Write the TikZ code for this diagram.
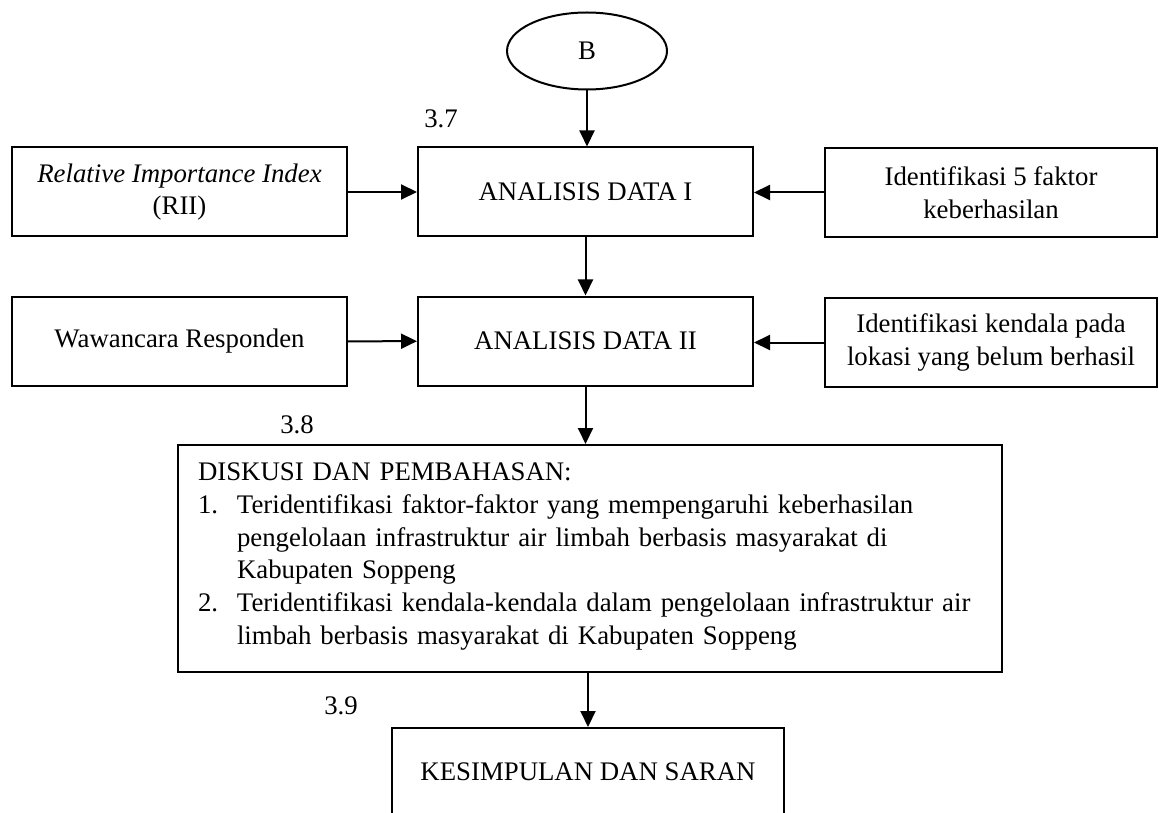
\documentclass[tikz,border=0pt]{standalone}
\usepackage{fontspec}
\setmainfont{Liberation Serif}
\usetikzlibrary{arrows.meta,shapes.geometric}
\tikzset{
  flowbox/.style={
    draw,
    line width=1pt,
    align=center,
    inner sep=0pt
  },
  widebox/.style={flowbox, minimum width=167.5pt, minimum height=44.5pt},
  flowarrow/.style={
    draw,
    line width=1pt,
    -{Triangle[length=8pt,width=7.5pt]}
  },
  stepno/.style={inner sep=0pt}
}
\newcommand{\numitem}[1]{\makebox[19.5pt][l]{#1}}

\begin{document}
\begin{tikzpicture}[
    x=0.5pt, y=-0.5pt,
    every node/.append style={font=\fontsize{13.4}{16.4}\selectfont}
  ]
  \useasboundingbox (0,0) rectangle (1159,812);

  % start
  \node[ellipse, flowbox, minimum width=80pt, minimum height=38.5pt] (b) at (587,51) {B};

  % analisis data
  \node[widebox] (data1) at (585.5,192) {ANALISIS DATA I};
  \node[widebox] (rii) at (179.5,192) {\textit{Relative Importance Index}\\(RII)};
  \node[widebox, minimum width=166pt] (faktor) at (991,192.5) {Identifikasi 5 faktor\\keberhasilan};

  \node[widebox] (data2) at (585.5,341) {ANALISIS DATA II};
  \node[widebox] (wawancara) at (179.5,341.5) {Wawancara Responden};
  \node[widebox, minimum width=166pt] (kendala) at (991,342.5) {Identifikasi kendala pada\\lokasi yang belum berhasil};

  % diskusi
  \node[flowbox, align=left, text width=392pt, minimum width=412pt, minimum height=113.5pt] (diskusi) at (590,558.5) {%
    DISKUSI DAN PEMBAHASAN:\\
    \numitem{1.}Teridentifikasi faktor-faktor yang mempengaruhi keberhasilan\\
    \numitem{}pengelolaan infrastruktur air limbah berbasis masyarakat di\\
    \numitem{}Kabupaten Soppeng\\
    \numitem{2.}Teridentifikasi kendala-kendala dalam pengelolaan infrastruktur air\\
    \numitem{}limbah berbasis masyarakat di Kabupaten Soppeng\strut};

  \node[widebox, minimum width=196pt, minimum height=44pt] (simpulan) at (588,772) {KESIMPULAN DAN SARAN};

  % nomor sub bab
  \node[stepno] (no37) at (441,119) {3.7};
  \node[stepno] (no38) at (297,425) {3.8};
  \node[stepno] (no39) at (341,706) {3.9};

  % panah
  \draw[flowarrow] (b.south) -- (b.south |- data1.north);
  \draw[flowarrow] (rii) -- (data1);
  \draw[flowarrow] (faktor.west) -- (data1.east |- faktor.west);
  \draw[flowarrow] (data1) -- (data2);
  \draw[flowarrow] (wawancara) -- (data2);
  \draw[flowarrow] (kendala.west) -- (data2.east |- kendala.west);
  \draw[flowarrow] (data2.south) -- (data2.south |- diskusi.north);
  \draw[flowarrow] (simpulan.north |- diskusi.south) -- (simpulan.north);
\end{tikzpicture}
\end{document}
